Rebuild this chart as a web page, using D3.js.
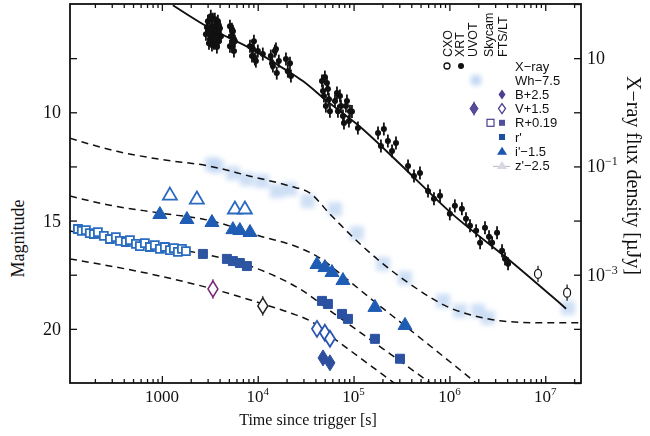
<!DOCTYPE html>
<html><head><meta charset="utf-8">
<script src="https://cdn.jsdelivr.net/npm/d3@7"></script>
<style>body{margin:0;background:#fff;} svg{display:block}</style>
</head><body><svg id="c" width="650" height="436"></svg>
<script>
// ---------------- DATA ----------------
// X-ray (XRT) flux density [µJy] vs time [s]
const xrtT = [3020,3100,3170,3240,3330,3410,3490,3570,3660,3750,3840,3930,4030,3170,3490,3840,3330,
 2950,3100,3240,3410,3570,3750,3930,4130,2880,
 5130,5250,5380,5510,5650,5780,5130,5380,5650,
 8300,8710,9130,9570,10030,11300,8920,9350,
 13700,14400,15100,15800,16600,14100,15500,
 19700,20600,21700,22200,
 46800,49100,51400,54000,56700,50200,48000,52700,55300,
 64000,68700,72100,77500,83300,89500,96200,111000,67100,73900,79400,85300,91700,
 180000,193000,207000,228000,252000,277000,
 370000,427000,493000,598000,690000,798000,
 1.01e6,1.14e6,1.35e6,1.49e6,1.64e6,1.90e6,2.09e6,2.35e6,2.59e6,2.79e6,3.14e6,3.54e6,3.80e6,4.09e6];
const xrtF = [48.1,31.5,22.4,59.4,38.9,25.5,18.9,52.4,34.3,44.2,27.7,20.6,35.7,34.3,31.5,48.1,17.4,
 37.2,18.9,28.9,52.4,22.4,16.0,40.6,25.5,27.7,
 38.9,25.5,16.6,31.5,13.5,20.6,16.6,34.3,22.4,
 16.6,10.9,20.6,8.81,13.5,11.9,14.7,9.6,
 10.9,7.13,13.5,5.29,8.81,8.09,14.7,
 9.6,5.75,8.09,4.66,
 3.77,2.0,1.30,2.68,1.05,4.47,2.47,3.46,1.75,
 1.61,1.05,2.0,0.853,1.30,0.690,1.03,0.513,2.27,1.30,0.634,1.61,1.05,
 0.415,0.239,0.491,0.295,0.193,0.271,
 0.102,0.0668,0.0759,0.0353,0.0252,0.0286,
 0.0133,0.0187,0.0165,0.0108,0.0080,0.00647,0.00389,0.00734,0.00501,0.00389,0.00594,0.00277,0.00197,0.00160];
const xrtErrDex = 0.12;
// Chandra (CXO)
const cxoT = [8.4e6, 1.69e7];
const cxoF = [0.00104, 0.000466];
const cxoErrDex = 0.15;
// X-ray model (solid line)
const xModelT = [1303,3170,8300,18300,29600,52700,108000,305000,1.01e6,4.3e6,1.65e7];
const xModelF = [95,35.7,15.3,6.55,3.77,1.61,0.607,0.111,0.0145,0.00181,0.000236];

// Optical magnitudes
const whT = [3330,3750,5510,7710,11100,15800,21700,33400,64000,108000,203000,344000,857000,1.29e6,1.99e6,2.53e6,1.73e7];
const whMag = [12.40,12.49,12.81,13.09,13.18,13.64,13.55,14.10,14.47,15.58,17.00,17.65,18.71,19.17,19.17,19.49,19.03];
const bT = [48000,56700];
const bMag = [21.34,21.57];
const vUvotT = [3410];
const vUvotMag = [18.16];
const vOtherT = [11300];
const vOtherMag = [18.94];
const vFtsT = [41500,50200,56700];
const vFtsMag = [20.00,20.18,20.46];
const rSkyT = [133,146,161,177,195,215,248,287,331,365,421,464,536,589,665,750,845,953,1075,1213,1334,1469,1618,1782];
const rSkyMag = [15.39,15.48,15.44,15.58,15.62,15.53,15.71,15.85,15.76,15.94,15.99,15.90,16.08,16.18,16.04,16.22,16.13,16.31,16.22,16.36,16.27,16.45,16.31,16.41];
const rFtsT = [2680,4770,5510,6510,7710];
const rFtsMag = [16.54,16.77,16.87,16.96,17.10];
const rpT = [46800,54000,75700,87400,167000,305000];
const rpMag = [18.71,18.85,19.31,19.54,20.46,21.38];
const ipT = [953,1824,3330,5510,6510,8300,41500,50200,59500,77500,167000,344000];
const ipMag = [14.65,14.88,15.02,15.35,15.39,15.48,16.96,17.10,17.33,17.70,18.94,19.77];
const zpT = [1213,2318,5780,7350];
const zpMag = [13.78,13.96,14.42,14.42];

// dashed model curves (magnitude)
const mWhT = [110,339,953,3170,8300,21700,35100,56700,117000,203000,388000,1.01e6,2.24e6,3.37e6,8.83e6,2.37e7];
const mWhMag = [11.20,11.80,12.17,12.49,12.95,13.41,13.73,14.70,16.08,17.00,17.93,19.03,19.49,19.63,19.72,19.72];
const mIT = [110,287,953,3330,10500,27600,44600,77500,167000,344000,798000,1.94e6];
const mIMag = [13.87,14.29,14.65,15.02,15.71,16.27,16.73,17.56,18.76,19.86,21.15,22.53];
const mRT = [110,464,2680,7710,15100,27600,60900,203000,627000];
const mRMag = [15.48,16.04,16.54,17.05,17.56,18.16,19.26,20.92,22.49];
const mVT = [110,953,3410,11300,21700,35100,60900,117000,271000];
const mVMag = [16.77,17.56,18.16,18.85,19.26,19.63,20.41,21.34,22.53];

// axis ticks
const xMajor = [1e3,1e4,1e5,1e6,1e7];
const xMajorBase = ["1000","10","10","10","10"];
const xMajorExp = ["","4","5","6","7"];
const magTicks = [10,15,20];
const magMinor = [7.5,12.5,17.5];
const fluxTicks = [100,10,1,0.1,0.01,1e-3,1e-4,1e-5];
const fluxLabelVals = [10,0.1,1e-3];
const fluxLabelExp = ["","−1","−3"];

const legendRows = ["X−ray","Wh−7.5","B+2.5","V+1.5","R+0.19","r'","i'−1.5","z'−2.5"];
const legendCols = ["CXO","XRT","UVOT","Skycam","FTS/LT"];

// ---------------- DRAW ----------------
const L=70,R=581,T=4,B=383;
const svg = d3.select("#c");
const x = d3.scaleLog().domain([110,2.36e7]).range([L,R]);
const yMag = d3.scaleLinear().domain([5,22.5]).range([T,B]);
const yFlux = d3.scaleLog().domain([100,1e-5]).range([T,B]);

const defs = svg.append("defs");
defs.append("clipPath").attr("id","clip").append("rect").attr("x",L).attr("y",T).attr("width",R-L).attr("height",B-T);
defs.append("filter").attr("id","blur").attr("x","-50%").attr("y","-50%").attr("width","200%").attr("height","200%")
  .append("feGaussianBlur").attr("stdDeviation",2.4);

const serif = "Liberation Serif, Times New Roman, serif";
const sans = "Liberation Sans, Arial, Helvetica, sans-serif";

const plot = svg.append("g").attr("clip-path","url(#clip)");
const zip = (a,b)=>a.map((v,i)=>[v,b[i]]);

// Wh blobs
plot.append("g").attr("filter","url(#blur)").selectAll("rect").data(zip(whT,whMag)).join("rect")
  .attr("x",d=>x(d[0])-7).attr("y",d=>yMag(d[1])-7).attr("width",14).attr("height",14)
  .attr("fill","#c2d7f3").attr("opacity",0.8);

// dashed model curves
const mline = d3.line().x(d=>x(d[0])).y(d=>yMag(d[1])).curve(d3.curveMonotoneX);
[[mWhT,mWhMag],[mIT,mIMag],[mRT,mRMag],[mVT,mVMag]].forEach(([t,m])=>{
  plot.append("path").attr("d",mline(zip(t,m))).attr("fill","none")
    .attr("stroke","#111").attr("stroke-width",1.5).attr("stroke-dasharray","7,5");
});

// X-ray model line
const fline = d3.line().x(d=>x(d[0])).y(d=>yFlux(d[1])).curve(d3.curveMonotoneX);
plot.append("path").attr("d",fline(zip(xModelT,xModelF))).attr("fill","none")
  .attr("stroke","#111").attr("stroke-width",1.9);

// XRT points
const xg = plot.append("g");
zip(xrtT,xrtF).forEach(([t,f])=>{
  const cx=x(t), cy=yFlux(f);
  xg.append("line").attr("x1",cx).attr("x2",cx).attr("y1",yFlux(f*Math.pow(10,xrtErrDex))).attr("y2",yFlux(f/Math.pow(10,xrtErrDex)))
    .attr("stroke","#111").attr("stroke-width",1.8);
  xg.append("line").attr("x1",cx-2.5).attr("x2",cx+2.5).attr("y1",cy).attr("y2",cy)
    .attr("stroke","#111").attr("stroke-width",1.4);
  xg.append("circle").attr("cx",cx).attr("cy",cy).attr("r",3).attr("fill","#111");
});
// CXO
zip(cxoT,cxoF).forEach(([t,f])=>{
  const cx=x(t), cy=yFlux(f);
  xg.append("line").attr("x1",cx).attr("x2",cx).attr("y1",yFlux(f*Math.pow(10,cxoErrDex))).attr("y2",yFlux(f/Math.pow(10,cxoErrDex)))
    .attr("stroke","#111").attr("stroke-width",1.2);
  xg.append("ellipse").attr("cx",cx).attr("cy",cy).attr("rx",3.5).attr("ry",4.5).attr("fill","#fff").attr("stroke","#111").attr("stroke-width",1.2);
});

// symbol paths
const diamond = "M0,-8L5,0L0,8L-5,0Z";
const tri = "M0,-6.5L7,5.5L-7,5.5Z";
const sq = s=>`M${-s},${-s}H${s}V${s}H${-s}Z`;
function pts(t,m,path,fill,stroke,sw,errBar){
  const g = plot.append("g");
  zip(t,m).forEach(([tt,mm])=>{
    const px=x(tt), py=yMag(mm);
    if(errBar) g.append("line").attr("x1",px).attr("x2",px).attr("y1",py-10).attr("y2",py+10).attr("stroke",stroke).attr("stroke-width",1);
    g.append("path").attr("d",path).attr("transform",`translate(${px},${py})`)
      .attr("fill",fill).attr("stroke",stroke).attr("stroke-width",sw);
  });
}
pts(rSkyT,rSkyMag,sq(4),"#ffffff","#2a6cc0",1.8,false);
pts(rFtsT,rFtsMag,sq(4.5),"#2d55a0","#2d55a0",1,false);
pts(rpT,rpMag,sq(4.5),"#2b52a2","#2b52a2",1,false);
pts(ipT,ipMag,tri,"#1f5cb3","#1f5cb3",1,false);
pts(zpT,zpMag,tri,"#ffffff","#2a6ac0",1.8,false);
pts(vUvotT,vUvotMag,diamond,"#ffffff","#7a2a7a",1.5,true);
pts(vOtherT,vOtherMag,diamond,"#ffffff","#222",1.5,true);
pts(vFtsT,vFtsMag,diamond,"#ffffff","#2a56b0",1.8,false);
pts(bT,bMag,diamond,"#2e4e9e","#2e4e9e",1,false);

// ---------------- AXES ----------------
svg.append("rect").attr("x",L).attr("y",T).attr("width",R-L).attr("height",B-T)
  .attr("fill","none").attr("stroke","#111").attr("stroke-width",1.8);

function minorTicks(){
  const out=[];
  for(let d=2; d<=7; d++) for(let k=2;k<=9;k++){const v=k*Math.pow(10,d); if(v>110 && v<2.36e7) out.push(v);}
  return out;
}
function styleAxis(g){ g.select(".domain").remove(); g.selectAll("line").attr("stroke","#111").attr("stroke-width",1.3); g.selectAll("text").remove(); }
svg.append("g").attr("transform",`translate(0,${B})`).call(d3.axisBottom(x).tickValues(xMajor).tickSize(-7)).call(styleAxis);
svg.append("g").attr("transform",`translate(0,${B})`).call(d3.axisBottom(x).tickValues(minorTicks()).tickSize(-4)).call(styleAxis);
svg.append("g").attr("transform",`translate(0,${T})`).call(d3.axisTop(x).tickValues(xMajor).tickSize(-7)).call(styleAxis);
svg.append("g").attr("transform",`translate(0,${T})`).call(d3.axisTop(x).tickValues(minorTicks()).tickSize(-4)).call(styleAxis);
svg.append("g").attr("transform",`translate(${L},0)`).call(d3.axisLeft(yMag).tickValues(magTicks.concat(magMinor)).tickSize(-7)).call(styleAxis);
svg.append("g").attr("transform",`translate(${R},0)`).call(d3.axisRight(yFlux).tickValues(fluxTicks).tickSize(-7)).call(styleAxis);

xMajor.forEach((v,i)=>{
  const t = svg.append("text").attr("x",x(v)).attr("y",B+19).attr("text-anchor","middle")
    .attr("font-family",serif).attr("font-size",17).attr("fill","#111");
  t.append("tspan").text(xMajorBase[i]);
  if(xMajorExp[i]) t.append("tspan").attr("dy",-7).attr("font-size",11).text(xMajorExp[i]);
});
magTicks.forEach(v=>{
  svg.append("text").attr("x",L-9).attr("y",yMag(v)+6).attr("text-anchor","end")
    .attr("font-family",serif).attr("font-size",18).attr("fill","#111").text(v);
});
fluxLabelVals.forEach((v,i)=>{
  const t = svg.append("text").attr("x",R+6).attr("y",yFlux(v)+6)
    .attr("font-family",serif).attr("font-size",18).attr("fill","#111");
  t.append("tspan").text("10");
  if(fluxLabelExp[i]) t.append("tspan").attr("dy",-7).attr("font-size",12).text(fluxLabelExp[i]);
});
svg.append("text").attr("x",308).attr("y",B+42).attr("text-anchor","middle")
  .attr("font-family",serif).attr("font-size",16).attr("fill","#111").text("Time since trigger [s]");
svg.append("text").attr("transform",`translate(24,${(T+B)/2+45}) rotate(-90)`).attr("text-anchor","middle")
  .attr("font-family",serif).attr("font-size",18).attr("fill","#111").text("Magnitude");
svg.append("text").attr("transform",`translate(627,${(T+B)/2-18}) rotate(90)`).attr("text-anchor","middle")
  .attr("font-family",serif).attr("font-size",20).attr("fill","#111").text("X−ray flux density [µJy]");

// ---------------- LEGEND ----------------
const lg = svg.append("g");
const colX = [447,459,472,488,502];
legendCols.forEach((c,i)=>{
  lg.append("text").attr("transform",`translate(${colX[i]+4.5},57) rotate(-90)`)
    .attr("font-family",sans).attr("font-size",12.5).attr("fill","#111").text(c);
});
const rowY = i=>66+i*14.2;
legendRows.forEach((r,i)=>{
  lg.append("text").attr("x",515).attr("y",rowY(i)+4.5).attr("font-family",sans).attr("font-size",13)
    .attr("fill","#111").text(r);
});
lg.append("circle").attr("cx",colX[0]).attr("cy",rowY(0)).attr("r",3).attr("fill","#fff").attr("stroke","#111").attr("stroke-width",1.3);
lg.append("circle").attr("cx",colX[1]+2).attr("cy",rowY(0)).attr("r",3).attr("fill","#111");
lg.append("rect").attr("x",colX[2]-1).attr("y",rowY(1)-5).attr("width",10).attr("height",10).attr("fill","#c2d7f3").attr("filter","url(#blur)");
lg.append("path").attr("d","M0,-5L3.5,0L0,5L-3.5,0Z").attr("transform",`translate(${colX[4]},${rowY(2)})`).attr("fill","#4b3f8f");
lg.append("line").attr("x1",colX[2]+2).attr("x2",colX[2]+2).attr("y1",rowY(3)-7).attr("y2",rowY(3)+7).attr("stroke","#4b3f8f").attr("stroke-width",1);
lg.append("path").attr("d","M0,-6L4,0L0,6L-4,0Z").attr("transform",`translate(${colX[2]+2},${rowY(3)})`).attr("fill","#5a4a9a").attr("stroke","#4b3f8f");
lg.append("path").attr("d","M0,-5L3.5,0L0,5L-3.5,0Z").attr("transform",`translate(${colX[4]},${rowY(3)})`).attr("fill","#fff").attr("stroke","#4b3f8f").attr("stroke-width",1.3);
lg.append("rect").attr("x",colX[3]-1).attr("y",rowY(4)-3.5).attr("width",7).attr("height",7).attr("fill","#fff").attr("stroke","#4b3f8f").attr("stroke-width",1.2);
lg.append("rect").attr("x",colX[4]-3).attr("y",rowY(4)-3).attr("width",6).attr("height",6).attr("fill","#4f4f9c");
lg.append("rect").attr("x",colX[4]-3).attr("y",rowY(5)-3).attr("width",6).attr("height",6).attr("fill","#1f4fa0");
lg.append("path").attr("d","M0,-4.5L5,3.5L-5,3.5Z").attr("transform",`translate(${colX[4]},${rowY(6)})`).attr("fill","#1a55b0");
lg.append("line").attr("x1",colX[4]-9).attr("x2",colX[4]+8).attr("y1",rowY(7)+1).attr("y2",rowY(7)+1).attr("stroke","#b8b8c8").attr("stroke-width",1);
lg.append("path").attr("d","M0,-4.5L5,3.5L-5,3.5Z").attr("transform",`translate(${colX[4]},${rowY(7)})`).attr("fill","#d8d8e4");
</script></body></html>
